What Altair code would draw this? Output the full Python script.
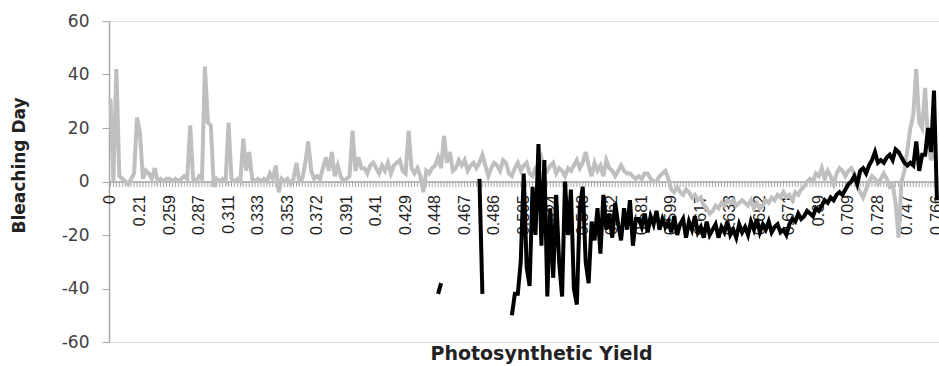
import altair as alt
import pandas as pd

# Category tick labels (every 10th photosynthetic-yield category)
tick_labels = ["0", "0.21", "0.259", "0.287", "0.311", "0.333", "0.353", "0.372",
               "0.391", "0.41", "0.429", "0.448", "0.467", "0.486", "0.505", "0.524",
               "0.543", "0.562", "0.581", "0.599", "0.617", "0.633", "0.652", "0.671",
               "0.69", "0.709", "0.728", "0.747", "0.766"]

# Gray series: one value per yield category (281 categories)
gray_values = [
    31, 0, 42, 2, 1, 0, -1, 1, 3, 24,
    18, 1, 4, 3, 1, 5, 0, 1, 0, 1,
    1, 0, 1, 0, 1, 2, 1, 21, 1, 0,
    2, 1, 43, 22, 21, -2, 1, 0, 1, 0,
    22, 1, 0, 1, 0, 16, 4, 11, 1, 0,
    1, 0, 1, 0, 3, 1, 6, -4, 1, 0,
    1, -1, 1, 7, 0, 1, 7, 15, 4, 1,
    2, 1, 5, 9, 4, 11, 2, 6, 2, 0,
    1, 2, 19, 4, 9, 5, 5, 3, 6, 7,
    5, 3, 6, 4, 7, 3, 6, 7, 8, 4,
    3, 19, 5, 3, 5, 2, -4, 4, 3, 5,
    6, 9, 5, 17, 7, 11, 4, 5, 8, 6,
    8, 4, 6, 7, 5, 7, 10, 6, 2, 5,
    7, 6, 4, 8, 7, 3, 2, 5, 7, 4,
    6, 7, 3, 2, 5, 6, 9, 5, 4, 6,
    7, 3, 5, 4, 2, 5, 4, 6, 8, 5,
    7, 11, 6, 2, 7, 4, 6, 2, 8, 5,
    4, 2, 4, 6, 4, 3, 3, 2, 1, 2,
    1, 3, 3, 1, 0, 0, 2, 3, 4, 1,
    -3, -4, -2, -4, -5, -3, -4, -6, -5, -7,
    -6, -9, -10, -12, -11, -9, -10, -8, -9, -7,
    -8, -7, -9, -8, -7, -8, -9, -7, -10, -8,
    -10, -9, -7, -8, -6, -7, -5, -6, -4, -6,
    -5, -7, -4, -5, -3, -2, 0, 1, 0, 3,
    2, 5, 1, 4, 2, -1, 3, 5, 4, 2,
    4, 5, 3, -2, -4, -6, -3, 0, 2, 1,
    -1, 1, 3, 1, -2, -1, -8, -21, 0, 4,
    12, 20, 25, 42, 22, 20, 35, 14, 8, 12,
    12,
]

# Black series: None where no value was recorded
black_values = (
    [None] * 111
    + [-42, -38]
    + [None] * 12
    + [1, -42]
    + [None] * 9
    + [-50, -42, -42, -30, 3, -32, -39, -2, -20, 14,
       -24, 8, -43, -10, -36, -5, -30, -43, 0, -20,
       -3, -40, -46, -10, -2, -30, -38, -15, -22, -10,
       -27, -5, -18, -12, -21, -8, -16, -22, -10, -18,
       -7, -24, -14]
    + [-14, -17, -12, -19, -13, -16, -11, -18, -14, -17,
       -15, -19, -13, -20, -16, -14, -21, -15, -18, -13, -19,
       -17, -21, -15, -20, -18, -16, -21, -17, -19, -15, -20,
       -18, -21, -16, -19, -17, -20, -15, -18, -14, -19,
       -16, -18, -15, -19, -17, -16, -19, -18, -20, -16,
       -14, -15, -12, -14, -13, -11, -12, -13, -10, -11,
       -9, -7, -8, -6, -7, -5, -4, -5, -3, -1,
       0, 2, -1, 4, 5, 3, 6, 8, 11, 7,
       8, 7, 9, 10, 8, 12, 11, 9, 7, 6,
       7, 6, 15, 4, 10, 10, 20, 11, 34, -7]
)

n_cat = len(gray_values)

gray_df = pd.DataFrame({"cat": range(n_cat), "value": gray_values})
cat_df = pd.DataFrame({"cat": range(n_cat)})
label_df = pd.DataFrame({"cat": range(0, n_cat, 10), "label": tick_labels})

# Split the black series into unbroken runs so gaps stay empty
rows = []
seg = 0
prev_missing = True
for i, v in enumerate(black_values):
    if v is None:
        prev_missing = True
        continue
    if prev_missing:
        seg += 1
        prev_missing = False
    rows.append({"cat": i, "value": v, "seg": seg})
black_df = pd.DataFrame(rows)

axis_gray = "#A6A6A6"
text_color = "#404040"

x_scale = alt.Scale(domain=[-0.5, 280.7], nice=False, zero=False)
y_scale = alt.Scale(domain=[-60, 60], nice=False)

# Zero-crossing category axis: line only, labels drawn as a text layer
x_axis = alt.Axis(
    values=list(range(0, n_cat, 10)),
    labels=False,
    ticks=False,
    domainColor=axis_gray,
    domainWidth=1.5,
    grid=False,
    offset=-160.5,
    title="Photosynthetic Yield",
    titleFont="DejaVu Sans",
    titleFontWeight="bold",
    titleFontSize=19,
    titleColor="#222222",
    titleX=432,
    titleY=172,
    titleAlign="center",
    titleBaseline="middle",
)

y_axis = alt.Axis(
    values=[-60, -40, -20, 0, 20, 40, 60],
    labelExpr="datum.value < 0 ? '-' + abs(datum.value) : '' + datum.value",
    labelFont="DejaVu Sans",
    labelFontSize=17,
    labelColor=text_color,
    labelPadding=13,
    tickSize=7,
    tickColor=axis_gray,
    domainColor=axis_gray,
    domainWidth=1.5,
    grid=False,
    title="Bleaching Day",
    titleFont="DejaVu Sans",
    titleFontWeight="bold",
    titleFontSize=17,
    titleColor="#222222",
    titleAngle=270,
    titleX=-90,
    titleY=144,
    titleAlign="center",
    titleBaseline="middle",
)

# Small category tick marks along the zero line
cat_ticks = alt.Chart(cat_df).mark_rule(color=axis_gray, strokeWidth=1).encode(
    x=alt.X("cat:Q", scale=x_scale, axis=x_axis),
    y=alt.value(160.5),
    y2=alt.value(166),
)

# Rotated category labels under the zero line
cat_labels = alt.Chart(label_df).mark_text(
    angle=270,
    align="right",
    baseline="middle",
    font="Liberation Sans",
    fontSize=16,
    color="#222222",
).encode(
    x=alt.X("cat:Q", scale=x_scale),
    y=alt.value(174),
    text="label:N",
)

gray_line = alt.Chart(gray_df).mark_line(
    color="#BFBFBF", strokeWidth=4
).encode(
    x=alt.X("cat:Q", scale=x_scale),
    y=alt.Y("value:Q", scale=y_scale, axis=y_axis),
)

black_line = alt.Chart(black_df).mark_line(
    color="#000000", strokeWidth=4
).encode(
    x=alt.X("cat:Q", scale=x_scale),
    y=alt.Y("value:Q", scale=y_scale),
    detail="seg:N",
)

chart = alt.layer(cat_ticks, cat_labels, gray_line, black_line).properties(
    width=830,
    height=321,
    autosize=alt.AutoSizeParams(type="none"),
    padding={"left": 109, "top": 21, "right": 0, "bottom": 24},
).configure_view(stroke=None).configure(background="white")

chart.save("out.html", embed_options={"renderer": "svg", "actions": False})
